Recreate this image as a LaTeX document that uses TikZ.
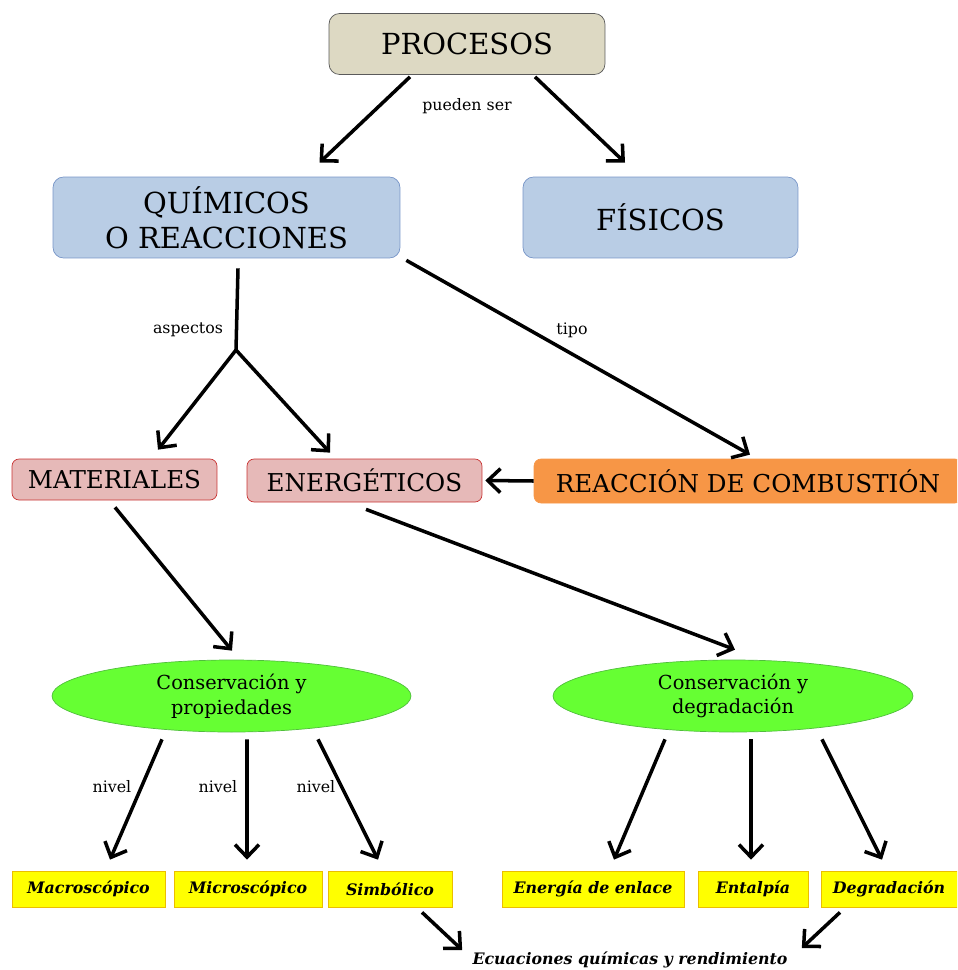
\documentclass[tikz,border=0pt]{standalone}
\usepackage{fontspec}
\setmainfont{DejaVu Serif}
\usetikzlibrary{arrows.meta,calc,shapes.geometric}
\definecolor{mytan}{RGB}{221,217,195}
\definecolor{mytanline}{RGB}{90,90,90}
\definecolor{myblue}{RGB}{185,205,229}
\definecolor{mybluel}{RGB}{120,150,200}
\definecolor{mypink}{RGB}{230,185,184}
\definecolor{mypinkl}{RGB}{200,50,50}
\definecolor{myorange}{RGB}{247,150,70}
\definecolor{mygreen}{RGB}{102,255,51}
\definecolor{mygreenl}{RGB}{80,190,60}
\definecolor{myyellow}{RGB}{255,255,0}
\definecolor{myyellowl}{RGB}{235,190,0}

\begin{document}
\begin{tikzpicture}[x=0.02cm, y=-0.02cm,
    arr/.style={line width=2pt, -{Straight Barb[length=2.5mm,width=4.8mm]}},
    box/.style={rectangle, rounded corners=6pt, inner sep=0pt, align=center},
    big/.style={box, minimum height=1.62cm, fill=myblue, draw=mybluel,
        font=\fontsize{16.5}{20}\selectfont},
    mid/.style={box, rounded corners=4pt, fill=mypink, draw=mypinkl,
        font=\fontsize{14}{17}\selectfont},
    oval/.style={ellipse, inner sep=0pt, minimum width=7.2cm, minimum height=1.44cm,
        fill=mygreen, draw=mygreenl, align=center, font=\fontsize{11}{14}\selectfont},
    leaf/.style={rectangle, inner sep=0pt, minimum height=0.72cm, fill=myyellow,
        draw=myyellowl, font=\fontsize{9}{11}\selectfont\bfseries\itshape},
    lbl/.style={inner sep=1pt, font=\fontsize{9}{11}\selectfont}]
    \clip (0, 0) rectangle (957, 970);

    % Top levels
    \node[box, minimum width=5.52cm, minimum height=1.22cm, fill=mytan, draw=mytanline,
        font=\fontsize{16.5}{20}\selectfont] (procesos) at (467, 44) {PROCESOS};
    \node[big, minimum width=6.94cm] (quimicos) at (226.5, 217.5) {QUÍMICOS\\O REACCIONES};
    \node[big, minimum width=5.5cm] (fisicos) at (660.5, 217.5) {FÍSICOS};

    % Aspects
    \node[mid, minimum width=4.1cm, minimum height=0.82cm] (materiales) at (114.5, 479.5) {MATERIALES};
    \node[mid, minimum width=4.7cm, minimum height=0.86cm] (energeticos) at (364.5, 480.5) {ENERGÉTICOS};
    \node[mid, minimum width=8.56cm, minimum height=0.88cm, fill=myorange, draw=myorange]
        (combustion) at (748, 481) {REACCIÓN DE COMBUSTIÓN};

    \node[oval, minimum width=7.18cm] (propiedades) at (231.5, 696) {Conservación y\\propiedades};
    \node[oval] (degradacion) at (733, 696) {Conservación y\\degradación};

    % Levels
    \node[leaf, minimum width=3.06cm] (macro) at (88.5, 889) {Macroscópico};
    \node[leaf, minimum width=2.96cm] (micro) at (248, 889) {Microscópico};
    \node[leaf, minimum width=2.48cm] (simbolico) at (390, 889) {Simbólico};
    \node[leaf, minimum width=3.64cm] (enlace) at (593, 889) {Energía de enlace};
    \node[leaf, minimum width=2.2cm] (entalpia) at (753, 889) {Entalpía};
    \node[leaf, minimum width=2.72cm] (degr) at (889, 889) {Degradación};
    \node[inner sep=0pt, font=\fontsize{9}{11}\selectfont\bfseries\itshape]
        (ecuaciones) at (630, 960) {Ecuaciones químicas y rendimiento};

    % Connectors
    \draw[arr] ($(procesos.south)+(-57, 2)$) -- ($(quimicos.north)+(93, -14)$);
    \draw[arr] ($(procesos.south)+(68, 2)$) -- ($(fisicos.north)+(-35.5, -14)$);
    \node[lbl] (puedenser) at (467, 106) {pueden ser};

    \coordinate (ramif) at (236, 350);
    \draw[line width=2pt] ($(quimicos.south)+(11.5, 10)$) -- (ramif);
    \draw[arr] (ramif) -- ($(materiales.north)+(43.5, -9)$);
    \draw[arr] (ramif) -- ($(energeticos.north)+(-34.5, -6)$);
    \node[lbl] (aspectos) at (188, 330) {aspectos};

    \draw[arr] ($(quimicos.south east)+(6, 2)$) -- ($(combustion.north)+(2, -4)$);
    \node[lbl] (tipo) at (572, 330) {tipo};
    \draw[arr] (combustion.west) -- ($(energeticos.east)+(3, 0)$);

    \draw[arr] ($(materiales.south)+(0.5, 7)$) -- ($(propiedades.north)+(0.5, -9)$);
    \draw[arr] ($(energeticos.south)+(1.5, 7)$) -- ($(degradacion.north)+(2, -10)$);

    \draw[arr] ($(propiedades.south)+(-69.5, 7)$) -- ($(macro.north)+(21.5, -11)$);
    \draw[arr] ($(propiedades.south)+(15.5, 7)$) -- ($(micro.north)+(-1, -11)$);
    \draw[arr] ($(propiedades.south)+(86.5, 7)$) -- ($(simbolico.north)+(-12, -11)$);
    \foreach \x/\n in {112/a, 218/b, 316/c}
        \node[lbl] (nivel\n) at (\x, 787) {nivel};

    \draw[arr] ($(degradacion.south)+(-68, 7)$) -- ($(enlace.north)+(21, -11)$);
    \draw[arr] ($(degradacion.south)+(18, 7)$) -- ($(entalpia.north)+(-2, -11)$);
    \draw[arr] ($(degradacion.south)+(89, 7)$) -- ($(degr.north)+(-7, -11)$);

    \draw[arr] ($(simbolico.south)+(32, 5)$) -- ($(ecuaciones.west)+(-10, -10)$);
    \draw[arr] ($(degr.south)+(-49, 5)$) -- ($(ecuaciones.east)+(14, -12)$);
\end{tikzpicture}
\end{document}
